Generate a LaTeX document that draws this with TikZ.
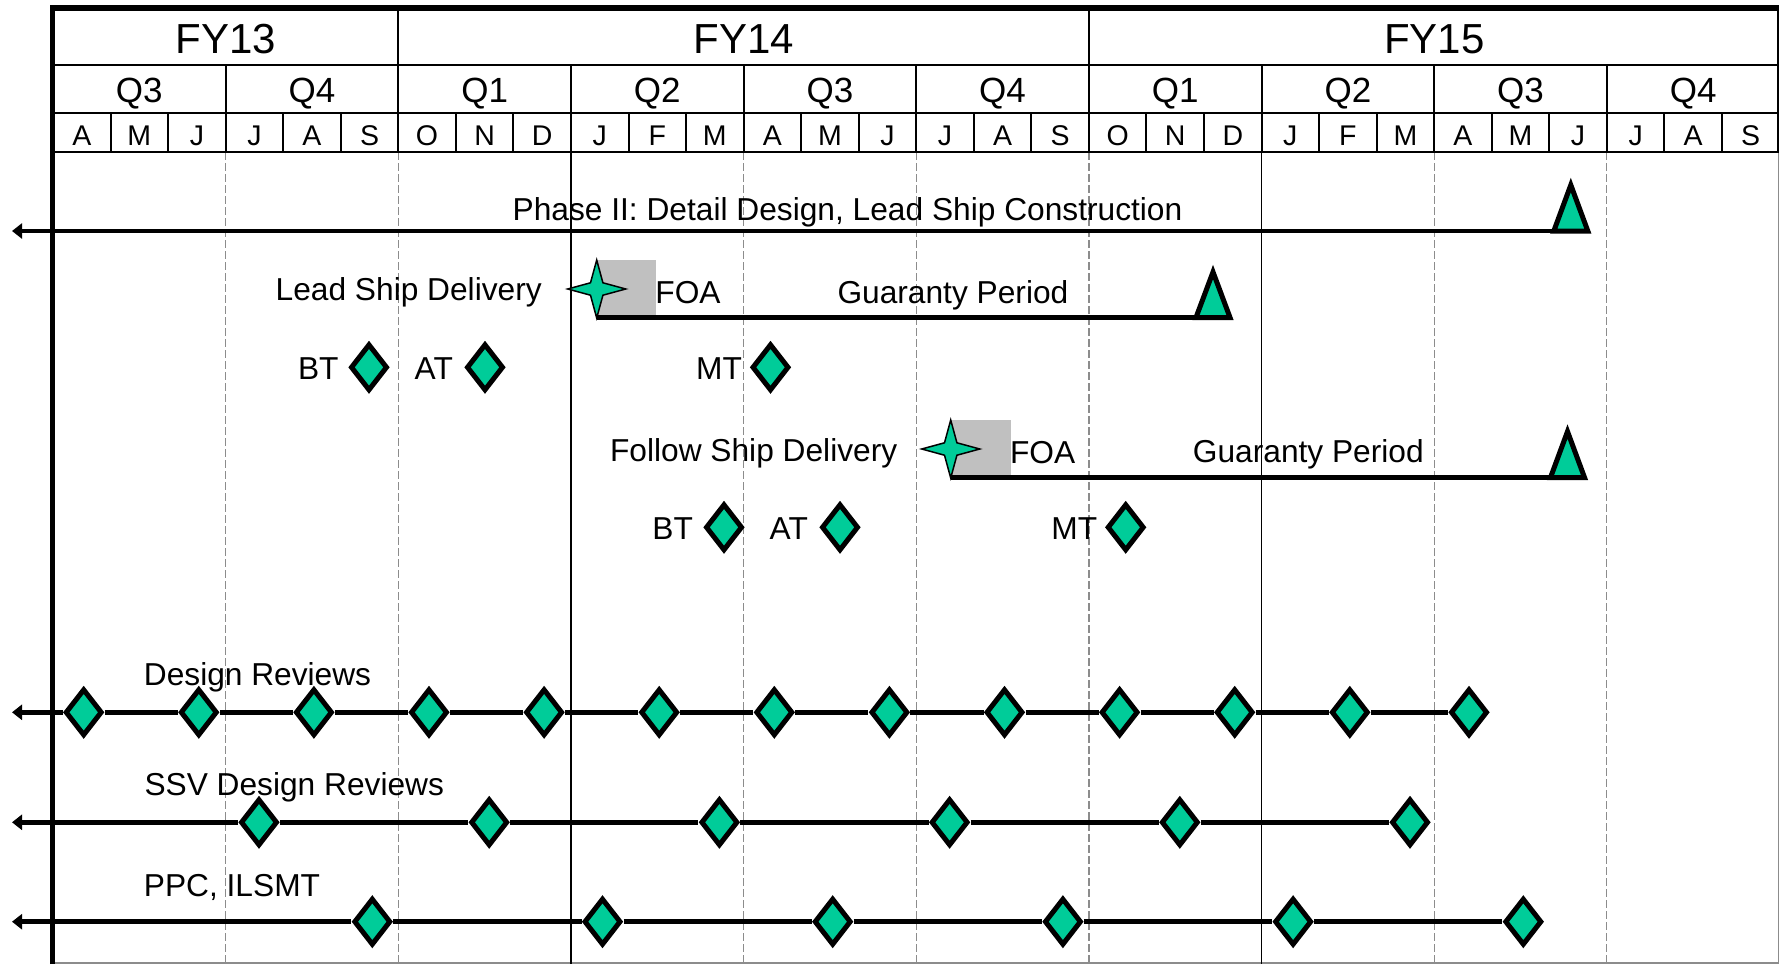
\documentclass[tikz,border=0pt]{standalone}
\usepackage{fontspec}
\setmainfont{Liberation Sans}
\usetikzlibrary{shapes.geometric,arrows.meta}
\definecolor{msgreen}{HTML}{00CC99}
\definecolor{foagray}{HTML}{C0C0C0}
\definecolor{gridgray}{HTML}{8C8C8C}
\tikzset{
  mdiamond/.style={shape=diamond, draw=black, fill=msgreen, line width=5pt, inner sep=0pt, minimum width=37pt, minimum height=47pt},
  mstar/.style={shape=star, star points=4, star point ratio=3.3, draw=black, fill=msgreen, line width=1.5pt, inner sep=0pt, minimum size=58pt},
  mtri/.style={draw=black, fill=msgreen, line width=5pt, line join=miter},
  tline/.style={line width=4.8pt, draw=black},
  leftarrow/.style={tline, {Triangle[length=10pt,width=15pt]}-},
  lbl/.style={inner sep=0pt, anchor=base west, font=\fontsize{31.7}{38}\selectfont},
  fylbl/.style={inner sep=0pt, anchor=base, font=\fontsize{42}{50}\selectfont},
  qlbl/.style={inner sep=0pt, anchor=base, font=\fontsize{35}{42}\selectfont},
  mlbl/.style={inner sep=0pt, anchor=base, font=\fontsize{28.5}{34}\selectfont},
  hline/.style={line width=2pt, draw=black},
  gridline/.style={draw=gridgray, line width=1.2pt, dash pattern=on 7.5pt off 3.5pt},
  yearline/.style={draw=black, line width=1.7pt},
  frameline/.style={draw=gridgray, line width=1.2pt},
  foabox/.style={fill=foagray, draw=none}
}
\begin{document}
\begin{tikzpicture}[x=1pt,y=-1pt]
\useasboundingbox (0,0) rectangle (1779,964);
% body frame
\draw[frameline] (53,963) -- (1778.4,963) -- (1778.4,152);
% body vertical lines
\foreach \i in {3,6,12,15,18,24,27}
  \draw[gridline] ({53+57.55*\i},152) -- ({53+57.55*\i},964);
\foreach \i in {9,21}
  \draw[yearline] ({53+57.55*\i},152) -- ({53+57.55*\i},964);
% header grid
\foreach \y in {65,113,152}
  \draw[hline] (53,\y) -- (1779,\y);
\foreach \i in {6,18}
  \draw[hline] ({53+57.55*\i},8) -- ({53+57.55*\i},65);
\foreach \i in {3,6,...,27}
  \draw[hline] ({53+57.55*\i},65) -- ({53+57.55*\i},113);
\foreach \i in {1,...,29}
  \draw[hline] ({53+57.55*\i},113) -- ({53+57.55*\i},152);
\draw[hline] (1777.5,8) -- (1777.5,152);
% header labels
\node[fylbl] (fy13) at (225.7,53.3) {FY13};
\node[fylbl] (fy14) at (743.6,53.3) {FY14};
\node[fylbl] (fy15) at (1434.2,53.3) {FY15};
\foreach \q [count=\k from 0] in {Q3,Q4,Q1,Q2,Q3,Q4,Q1,Q2,Q3,Q4}
  \node[qlbl] (q\k) at ({53+57.55*(3*\k+1.5)},102.7) {\q};
\foreach \m [count=\k from 0] in {A,M,J,J,A,S,O,N,D,J,F,M,A,M,J,J,A,S,O,N,D,J,F,M,A,M,J,J,A,S}
  \node[mlbl] (mo\k) at ({53+57.55*(\k+0.5)},145) {\m};
% thick outer border
\draw[line width=5.5pt, line join=miter] (52.5,964) -- (52.5,8) -- (1779,8);

% Phase II
\coordinate (p2tip) at (12,231);
\coordinate (p2end) at (1553.8,231);
\draw[leftarrow] (p2tip) -- (p2end);
\draw[mtri] (1553.8,231) -- (1570.8,185) -- (1587.8,231) -- cycle;
\node[lbl] (p2text) at (512.5,220) {Phase II: Detail Design, Lead Ship Construction};

% Lead ship
\fill[foabox] (596.7,260) rectangle (656,315);
\node[mstar] (leadstar) at (596.7,289) {};
\coordinate (leadend) at (1196,317.5);
\draw[tline] (leadstar |- leadend) -- (leadend);
\draw[mtri] (1196,317.5) -- (1213,272) -- (1230,317.5) -- cycle;
\node[lbl] (leadtext) at (275.5,300.5) {Lead Ship Delivery};
\node[lbl] (leadfoa) at (655.2,303) {FOA};
\node[lbl] (leadgp) at (837.3,303) {Guaranty Period};

% Lead ship trials
\node[lbl] (lbt) at (297.8,379) {BT};
\node[mdiamond] (lbtd) at (369,367.3) {};
\node[lbl] (lat) at (414.5,379) {AT};
\node[mdiamond] (latd) at (485,367.3) {};
\node[lbl] (lmt) at (696,379) {MT};
\node[mdiamond] (lmtd) at (770.5,367.3) {};

% Follow ship
\fill[foabox] (950.7,420) rectangle (1010.7,475);
\node[mstar] (folstar) at (950.7,449) {};
\coordinate (folend) at (1550.5,477.5);
\draw[tline] (folstar |- folend) -- (folend);
\draw[mtri] (1550.5,477.5) -- (1567.5,431.5) -- (1584.5,477.5) -- cycle;
\node[lbl] (foltext) at (609.9,461.7) {Follow Ship Delivery};
\node[lbl] (folfoa) at (1009.9,463.3) {FOA};
\node[lbl] (folgp) at (1192.7,462.7) {Guaranty Period};

% Follow ship trials
\node[lbl] (fbt) at (652.2,539) {BT};
\node[mdiamond] (fbtd) at (724,527.3) {};
\node[lbl] (fat) at (769.5,539) {AT};
\node[mdiamond] (fatd) at (840,527.3) {};
\node[lbl] (fmt) at (1051.2,539) {MT};
\node[mdiamond] (fmtd) at (1125.7,527.3) {};

% Design Reviews
\node[lbl] (drtext) at (143.7,685) {Design Reviews};
\foreach \k in {0,...,11}
  \node[mdiamond] (dr\k) at ({83.7+115.1*\k},712.3) {};
\node[mdiamond] (dr12) at (1469,712.3) {};
\coordinate (drtip) at (12,712.3);
\draw[leftarrow] (drtip) -- (dr0);
\foreach \k [evaluate=\k as \n using int(\k+1)] in {0,...,11}
  \draw[tline] (dr\k) -- (dr\n);

% SSV Design Reviews
\node[lbl] (ssvtext) at (144.3,795) {SSV Design Reviews};
\foreach \k in {0,...,5}
  \node[mdiamond] (ssv\k) at ({259+230.2*\k},822.3) {};
\coordinate (ssvtip) at (12,822.3);
\draw[leftarrow] (ssvtip) -- (ssv0);
\foreach \k [evaluate=\k as \n using int(\k+1)] in {0,...,4}
  \draw[tline] (ssv\k) -- (ssv\n);

% PPC, ILSMT
\node[lbl] (ppctext) at (143.7,896) {PPC, ILSMT};
\foreach \k in {0,...,5}
  \node[mdiamond] (ppc\k) at ({372.3+230.2*\k},921.7) {};
\coordinate (ppctip) at (12,921.7);
\draw[leftarrow] (ppctip) -- (ppc0);
\foreach \k [evaluate=\k as \n using int(\k+1)] in {0,...,4}
  \draw[tline] (ppc\k) -- (ppc\n);
\end{tikzpicture}
\end{document}
